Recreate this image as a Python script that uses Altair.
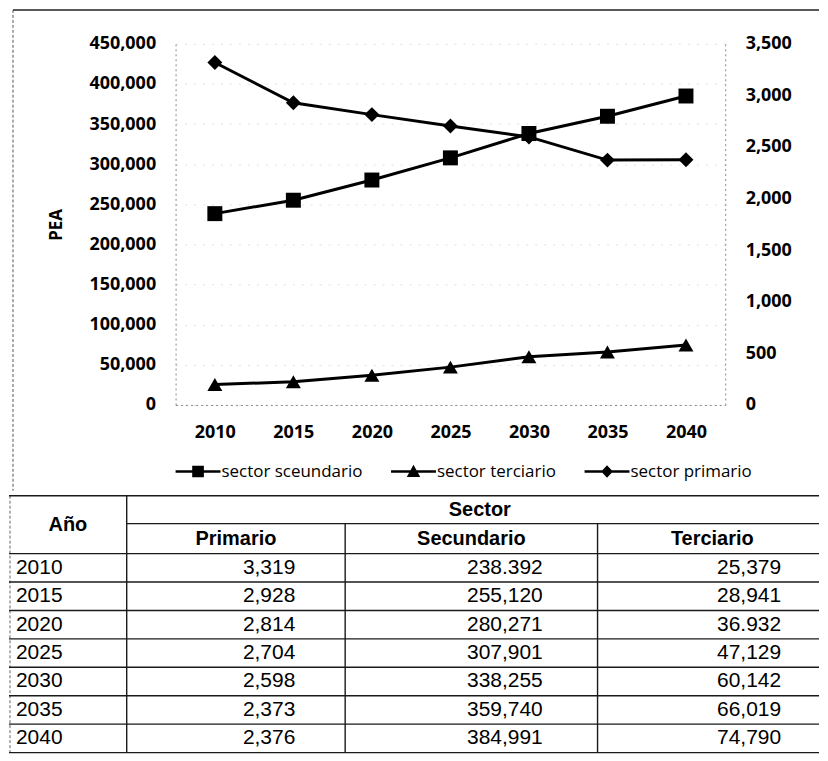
import altair as alt
import pandas as pd

# ---------------- data ----------------
years = [2010, 2015, 2020, 2025, 2030, 2035, 2040]
primario = [3319, 2928, 2814, 2704, 2598, 2373, 2376]
secundario = [238392, 255120, 280271, 307901, 338255, 359740, 384991]
terciario = [25379, 28941, 36932, 47129, 60142, 66019, 74790]

series = ["sector sceundario", "sector terciario", "sector primario"]
left_ticks = [0, 50000, 100000, 150000, 200000, 250000, 300000, 350000, 400000, 450000]
right_ticks = [0, 500, 1000, 1500, 2000, 2500, 3000, 3500]

primario_txt = ["3,319", "2,928", "2,814", "2,704", "2,598", "2,373", "2,376"]
secundario_txt = ["238.392", "255,120", "280,271", "307,901", "338,255", "359,740", "384,991"]
terciario_txt = ["25,379", "28,941", "36.932", "47,129", "60,142", "66,019", "74,790"]
year_header = "Año"
group_header = "Sector"
col_headers = ["Primario", "Secundario", "Terciario"]

# ---------------- styles ----------------
FONT = "Open Sans"
TFONT = "Liberation Sans"
AX_FS = 18
PLOT_W, PLOT_H = 551, 362
LEFT_EXT = 167   # distance from page content edge to plot origin

long_left = pd.DataFrame({
    "year": years * 2,
    "serie": [series[0]] * len(years) + [series[1]] * len(years),
    "value": secundario + terciario,
})
long_right = pd.DataFrame({
    "year": years,
    "serie": [series[2]] * len(years),
    "value": primario,
})

x_enc = alt.X(
    "year:O",
    scale=alt.Scale(type="point", padding=0.5),
    axis=alt.Axis(title=None, labelAngle=0, ticks=False, domain=True,
                  domainDash=[2, 3], domainColor="#888", domainWidth=1,
                  labelPadding=19, labelFont=FONT, labelFontSize=AX_FS,
                  labelFontWeight="bold", labelColor="black", grid=False),
)

y_left = alt.Y(
    "value:Q",
    scale=alt.Scale(domain=[0, 450000], nice=False),
    axis=alt.Axis(values=left_ticks, format=",.0f", title="PEA", orient="left",
                  ticks=False, domain=True, domainDash=[2, 3], domainColor="#888",
                  labelPadding=20, labelFont=FONT, labelFontSize=AX_FS,
                  labelFontWeight="bold", labelColor="black",
                  titleFont=FONT, titleFontSize=17, titleFontWeight="bold",
                  titleColor="black", titlePadding=23,
                  grid=True, gridColor="#999", gridDash=[2, 7], gridOpacity=0.3),
)
y_right = alt.Y(
    "value:Q",
    scale=alt.Scale(domain=[0, 3500], nice=False),
    axis=alt.Axis(values=right_ticks, format=",.0f", title=None, orient="right",
                  ticks=False, domain=True, domainDash=[2, 3], domainColor="#888",
                  labelPadding=20, labelFont=FONT, labelFontSize=AX_FS,
                  labelFontWeight="bold", labelColor="black", grid=False),
)

marker_shapes = alt.Scale(domain=series, range=["square", "triangle-up", "diamond"])

left_line = alt.Chart(long_left).mark_line(color="black", strokeWidth=3).encode(
    x=x_enc, y=y_left, detail="serie:N")
left_pts = alt.Chart(long_left).mark_point(filled=True, color="black", opacity=1, size=225).encode(
    x=x_enc, y=y_left, shape=alt.Shape("serie:N", scale=marker_shapes, legend=None))
right_line = alt.Chart(long_right).mark_line(color="black", strokeWidth=3).encode(
    x=x_enc, y=y_right)
right_pts = alt.Chart(long_right).mark_point(filled=True, color="black", opacity=1, size=225).encode(
    x=x_enc, y=y_right, shape=alt.Shape("serie:N", scale=marker_shapes, legend=None))

left = alt.layer(left_line, left_pts)
right = alt.layer(right_line, right_pts)

# legend symbols: line with marker in the middle
legend_paths = [
    "M-1,-0.06H1V0.06H-1Z M-0.26,-0.26H0.26V0.26H-0.26Z",
    "M-1,-0.06H1V0.06H-1Z M0,-0.3L0.3,0.24H-0.3Z",
    "M-1,-0.06H1V0.06H-1Z M0,-0.28L0.26,0L0,0.28L-0.26,0Z",
]
legend_layer = alt.Chart(pd.DataFrame({"serie": series})).mark_point(
    filled=True, color="black", opacity=1
).encode(
    shape=alt.Shape(
        "serie:N",
        scale=alt.Scale(domain=series, range=legend_paths),
        legend=alt.Legend(title=None, orient="bottom", direction="horizontal",
                          symbolSize=2025, symbolFillColor="black",
                          symbolStrokeWidth=0, labelFont=FONT, labelFontSize=17,
                          labelColor="black", labelOffset=1, columnPadding=28,
                          offset=7, symbolOpacity=1),
    )
).transform_filter("false")

one = pd.DataFrame({"k": [0]})
frame_top = alt.Chart(one).mark_rule(color="#222", strokeWidth=1.5).encode(
    x=alt.value(-LEFT_EXT + 4), x2=alt.value(645), y=alt.value(-34))
frame_left = alt.Chart(one).mark_rule(color="#555", strokeWidth=1, strokeDash=[3, 2]).encode(
    x=alt.value(-LEFT_EXT + 4), y=alt.value(-34), y2=alt.value(448))

top = alt.layer(left, right, legend_layer, frame_top, frame_left).resolve_scale(
    y="independent", shape="independent"
).properties(width=PLOT_W, height=PLOT_H)

# ---------------- table ----------------
TW, TH = 812, 258
col_edges = [0, 118, 337, 590, TW]
sector_line_y = 28
header_bottom = 58
row_h = 28.5
n = len(years)
row_edges = [header_bottom + row_h * i for i in range(n + 1)]
row_centers = [header_bottom + row_h * (i + 0.5) for i in range(n)]

txs = alt.X("x:Q", scale=alt.Scale(domain=[0, TW], range=[-LEFT_EXT, TW - LEFT_EXT],
                                   nice=False, zero=False), axis=None)
tys = alt.Y("y:Q", scale=alt.Scale(domain=[0, TH], range=[0, TH], nice=False, zero=False),
            axis=None)

rules = []
rules.append({"x": col_edges[0], "x2": TW, "y": 0, "y2": 0})
rules.append({"x": col_edges[1], "x2": TW, "y": sector_line_y, "y2": sector_line_y})
for ry in row_edges:
    rules.append({"x": col_edges[0], "x2": TW, "y": ry, "y2": ry})
rules.append({"x": col_edges[1], "x2": col_edges[1], "y": 0, "y2": row_edges[-1]})
rules.append({"x": col_edges[2], "x2": col_edges[2], "y": sector_line_y, "y2": row_edges[-1]})
rules.append({"x": col_edges[3], "x2": col_edges[3], "y": sector_line_y, "y2": row_edges[-1]})
rules_df = pd.DataFrame(rules)
left_border = pd.DataFrame([{"x": 1, "x2": 1, "y": 0, "y2": row_edges[-1]}])

rule_layer = alt.Chart(rules_df).mark_rule(color="#1a1a1a", strokeWidth=1.4).encode(
    x=txs, x2="x2:Q", y=tys, y2="y2:Q")
border_layer = alt.Chart(left_border).mark_rule(color="#666", strokeWidth=1, strokeDash=[3, 2]).encode(
    x=txs, x2="x2:Q", y=tys, y2="y2:Q")

hdr = pd.DataFrame({
    "x": [(col_edges[0] + col_edges[1]) / 2, 472,
          (col_edges[1] + col_edges[2]) / 2, (col_edges[2] + col_edges[3]) / 2, 705],
    "y": [header_bottom / 2, sector_line_y / 2,
          (sector_line_y + header_bottom) / 2, (sector_line_y + header_bottom) / 2,
          (sector_line_y + header_bottom) / 2],
    "t": [year_header, group_header] + col_headers,
})
hdr_layer = alt.Chart(hdr).mark_text(font=TFONT, fontSize=20, fontWeight="bold",
                                     color="black", align="center", baseline="middle").encode(
    x=txs, y=tys, text="t:N")

yr = pd.DataFrame({"x": [7] * n, "y": row_centers, "t": [str(v) for v in years]})
yr_layer = alt.Chart(yr).mark_text(font=TFONT, fontSize=21, color="black",
                                   align="left", baseline="middle").encode(
    x=txs, y=tys, text="t:N")

num = pd.DataFrame({
    "x": [287] * n + [535] * n + [774] * n,
    "y": row_centers * 3,
    "t": primario_txt + secundario_txt + terciario_txt,
})
num_layer = alt.Chart(num).mark_text(font=TFONT, fontSize=21, color="black",
                                     align="right", baseline="middle").encode(
    x=txs, y=tys, text="t:N")

table = alt.layer(border_layer, rule_layer, hdr_layer, yr_layer, num_layer).properties(
    width=PLOT_W, height=TH)

chart = alt.vconcat(top, table, spacing=3).properties(
    padding=0, background="white"
).configure_view(stroke=None)

chart.save("out.html", embed_options={"renderer": "svg", "actions": False})
